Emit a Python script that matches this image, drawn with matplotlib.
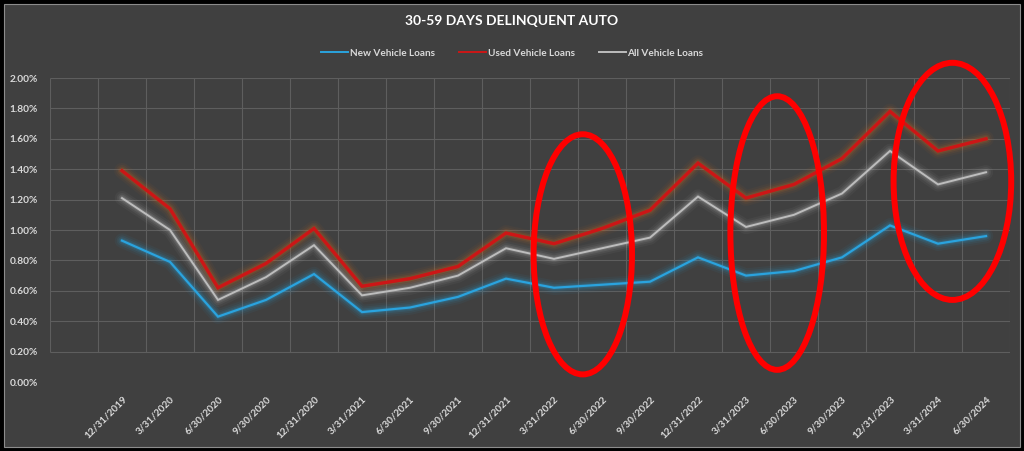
import numpy as np
import matplotlib
matplotlib.use("Agg")
import matplotlib.pyplot as plt
from matplotlib.patches import Ellipse, Rectangle

plt.rcParams['font.family'] = ['Lato', 'DejaVu Sans']
plt.rcParams['font.weight'] = 'bold'

# Quarter-end dates
quarters = ['12/31/2019', '3/31/2020', '6/30/2020', '9/30/2020', '12/31/2020',
            '3/31/2021', '6/30/2021', '9/30/2021', '12/31/2021', '3/31/2022',
            '6/30/2022', '9/30/2022', '12/31/2022', '3/31/2023', '6/30/2023',
            '9/30/2023', '12/31/2023', '3/31/2024', '6/30/2024']

# Delinquency rates (%)
new_loans = [0.93, 0.79, 0.43, 0.54, 0.71, 0.46, 0.49, 0.56, 0.68, 0.62,
             0.64, 0.66, 0.82, 0.70, 0.73, 0.82, 1.03, 0.91, 0.96]
used_loans = [1.39, 1.14, 0.62, 0.78, 1.01, 0.63, 0.68, 0.76, 0.98, 0.91,
              1.01, 1.13, 1.44, 1.21, 1.30, 1.47, 1.78, 1.52, 1.60]
all_loans = [1.21, 1.00, 0.54, 0.69, 0.90, 0.57, 0.62, 0.70, 0.88, 0.81,
             0.88, 0.95, 1.22, 1.02, 1.10, 1.24, 1.52, 1.30, 1.38]

y_ticks = [0.0, 0.2, 0.4, 0.6, 0.8, 1.0, 1.2, 1.4, 1.6, 1.8, 2.0]

# highlighted periods: (center index, center value, width, height)
highlights = [(9.6, 0.84, 2.05, 1.58),
              (13.65, 0.98, 1.95, 1.80),
              (17.3, 1.32, 2.45, 1.56)]

BG = '#404040'
TXT = '#D9D9D9'

fig = plt.figure(figsize=(10.24, 4.51), dpi=100)
fig.patch.set_facecolor('black')
fig.patches.append(Rectangle((4 / 1024, 4 / 451), 1016 / 1024, 443 / 451,
                             transform=fig.transFigure, facecolor=BG,
                             edgecolor='#8C8C8C', linewidth=0.8, zorder=-10))

ax = fig.add_axes([50 / 1024, 69 / 451, 960 / 1024, 304 / 451])
ax.set_facecolor('none')
x = np.arange(len(quarters))
ax.set_xlim(-1.5, len(quarters) - 0.5)
ax.set_ylim(0, 2.0)

# gridlines (Excel style, between categories)
grid_c = '#5E5E5E'
ax.hlines(y_ticks[1:], -1.5, len(quarters) - 0.5, color=grid_c, lw=0.8, zorder=1)
ax.vlines(np.arange(-1.5, len(quarters)), 0.2, 2.0, color=grid_c, lw=0.8, zorder=1)

def glow_line(vals, color, glow, lw, label, alphas=(0.05, 0.08, 0.12, 0.18)):
    for w, a in zip([lw + 9, lw + 6, lw + 3.5, lw + 1.5], alphas):
        ax.plot(x, vals, color=glow, lw=w, alpha=a, solid_capstyle='round',
                solid_joinstyle='round', zorder=2)
    ax.plot(x, vals, color=color, lw=lw, label=label, zorder=3,
            solid_joinstyle='miter')

glow_line(new_loans, '#2AA3DE', '#2AA3DE', 1.6, 'New Vehicle Loans')
glow_line(used_loans, '#CC1616', '#D2691E', 2.4, 'Used Vehicle Loans')
glow_line(all_loans, '#BDBDBD', '#E0E0E0', 1.4, 'All Vehicle Loans',
          alphas=(0.04, 0.06, 0.09, 0.13))

for cx, cy, w, h in highlights:
    ax.add_patch(Ellipse((cx, cy), w, h, fill=False, edgecolor='#FF0000',
                         lw=4.3, zorder=5, clip_on=False))

ax.set_yticks(y_ticks)
ax.set_yticklabels([f'{v:.2f}%' for v in y_ticks])
ax.set_xticks(x)
ax.set_xticklabels(quarters, rotation=45, ha='right', va='top',
                   rotation_mode='anchor')
ax.tick_params(axis='y', length=0, pad=9, labelsize=7.3, labelcolor=TXT)
ax.tick_params(axis='x', length=0, pad=9, labelsize=7.2, labelcolor=TXT)
for lab in ax.get_xticklabels() + ax.get_yticklabels():
    lab.set_fontweight('bold')
for s in ax.spines.values():
    s.set_visible(False)

fig.text(0.5, 1 - 21 / 451, '30-59 DAYS DELINQUENT AUTO', ha='center',
         va='center', color='white', fontsize=10, fontweight='bold')

leg = fig.legend(loc='center', bbox_to_anchor=(0.5, 1 - 53 / 451), ncol=3,
                 frameon=False, prop={'size': 7.2, 'weight': 'bold'},
                 handlelength=2.7, handletextpad=0.2, columnspacing=2.4,
                 labelcolor=TXT)
for h in leg.legend_handles:
    h.set_linewidth(1.4)

fig.savefig('out.png', dpi=100, facecolor=fig.get_facecolor())
